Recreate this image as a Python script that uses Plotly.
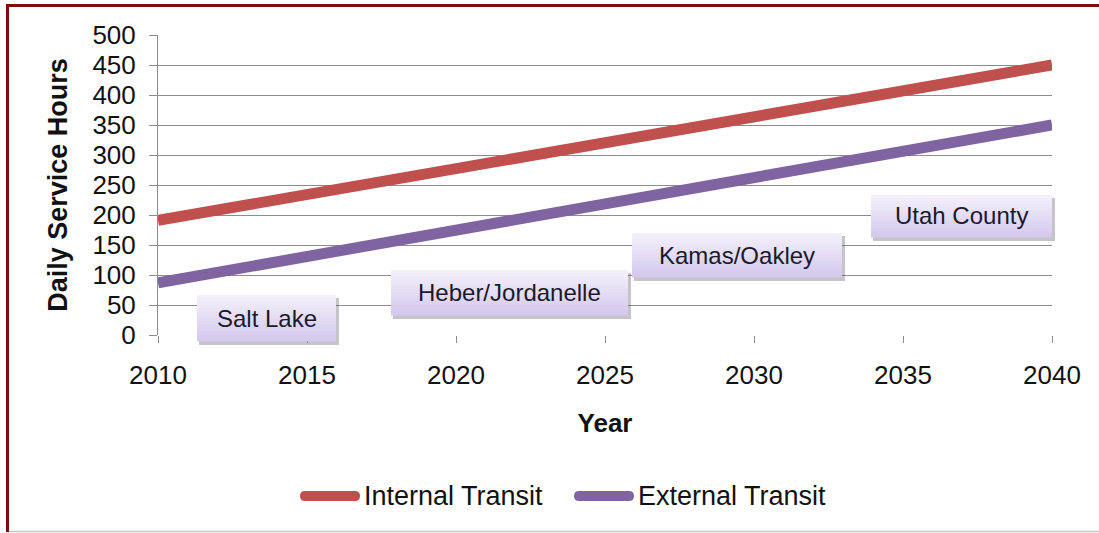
import plotly.graph_objects as go

# Service-hour projections
years = [2010, 2040]
internal_transit = [191, 450]
external_transit = [87, 350]
x_ticks = [2010, 2015, 2020, 2025, 2030, 2035, 2040]
y_ticks = [0, 50, 100, 150, 200, 250, 300, 350, 400, 450, 500]
region_labels = ["Salt Lake", "Heber/Jordanelle", "Kamas/Oakley", "Utah County"]

RED = "#c0504d"
PURPLE = "#8064a2"
GRID = "#8c8c8c"
FONT = "Liberation Sans, Arial, sans-serif"

W, H = 1099, 533
L, R, T, B = 158, 47, 35, 198
PW, PH = W - L - R, H - T - B


def px(xp):
    return (xp - L) / PW


def py(yp):
    return (T + PH - yp) / PH


fig = go.Figure()
fig.add_trace(go.Scatter(x=years, y=internal_transit, mode="lines", name="Internal Transit",
                         line=dict(color=RED, width=11), showlegend=False))
fig.add_trace(go.Scatter(x=years, y=external_transit, mode="lines", name="External Transit",
                         line=dict(color=PURPLE, width=11), showlegend=False))

shapes = []
annotations = []

# region callout boxes (pixel extents: left, top, right, bottom)
box_px = [(197, 295, 336, 341), (391, 270, 628, 315), (632, 233, 842, 277), (871, 195, 1052, 237)]
top_c = (243, 240, 251)
bot_c = (213, 201, 238)
n_strips = 14
for label, (x0, y0, x1, y1) in zip(region_labels, box_px):
    # drop shadow
    shapes.append(dict(type="rect", xref="paper", yref="paper", layer="above",
                       x0=px(x0 + 2), x1=px(x1 + 3), y0=py(y0 + 3), y1=py(y1 + 4),
                       fillcolor="rgba(90,90,100,0.35)", line=dict(width=0)))
    hstep = (y1 - y0) / n_strips
    for i in range(n_strips):
        t = i / (n_strips - 1)
        c = tuple(round(a + (b - a) * t) for a, b in zip(top_c, bot_c))
        shapes.append(dict(type="rect", xref="paper", yref="paper", layer="above",
                           x0=px(x0), x1=px(x1), y0=py(y0 + (i + 1) * hstep + 0.5), y1=py(y0 + i * hstep),
                           fillcolor="rgb(%d,%d,%d)" % c, line=dict(width=0)))
    annotations.append(dict(text=label, xref="paper", yref="paper", showarrow=False,
                            x=px((x0 + x1) / 2), y=py((y0 + y1) / 2), xanchor="center", yanchor="middle",
                            font=dict(family=FONT, size=24, color="#1a1a2a")))

# legend drawn as rounded swatches with labels
legend_items = [("Internal Transit", RED, 300, 360), ("External Transit", PURPLE, 574, 634)]
ly = 496
for name, col, lx0, lx1 in legend_items:
    r = 5
    path = (f"M {px(lx0 + r)},{py(ly - r)} L {px(lx1 - r)},{py(ly - r)} "
            f"Q {px(lx1)},{py(ly - r)} {px(lx1)},{py(ly)} Q {px(lx1)},{py(ly + r)} {px(lx1 - r)},{py(ly + r)} "
            f"L {px(lx0 + r)},{py(ly + r)} Q {px(lx0)},{py(ly + r)} {px(lx0)},{py(ly)} "
            f"Q {px(lx0)},{py(ly - r)} {px(lx0 + r)},{py(ly - r)} Z")
    shapes.append(dict(type="path", xref="paper", yref="paper", path=path,
                       fillcolor=col, line=dict(width=0)))
    annotations.append(dict(text=name, xref="paper", yref="paper", showarrow=False,
                            x=px(lx1 + 2), y=py(ly), xanchor="left", yanchor="middle",
                            font=dict(family=FONT, size=27, color="#111111")))

# outer frame
frame = "#7a0e0e"
shapes.append(dict(type="line", xref="paper", yref="paper", x0=px(7.5), x1=px(7.5), y0=py(4), y1=py(532),
                   line=dict(color=frame, width=3)))
shapes.append(dict(type="line", xref="paper", yref="paper", x0=px(6), x1=px(1100), y0=py(5.5), y1=py(5.5),
                   line=dict(color=frame, width=3)))
shapes.append(dict(type="line", xref="paper", yref="paper", x0=px(9), x1=px(1100), y0=py(531.5), y1=py(531.5),
                   line=dict(color="#e8b8b8", width=1.5)))

fig.update_layout(
    width=W, height=H,
    margin=dict(l=L, r=R, t=T, b=B),
    paper_bgcolor="white", plot_bgcolor="white",
    font=dict(family=FONT, size=26, color="#111111"),
    shapes=shapes, annotations=annotations,
    showlegend=False,
)
fig.update_xaxes(range=[2010, 2040], tickvals=x_ticks, showgrid=False, zeroline=False,
                 showline=False, ticks="outside", ticklen=7, tickcolor=GRID,
                 tickfont=dict(size=26), ticklabelstandoff=10,
                 title=dict(text="<b>Year</b>", font=dict(size=26), standoff=24))
fig.update_yaxes(range=[0, 500], tickvals=y_ticks, showgrid=True, gridcolor=GRID, gridwidth=1,
                 zeroline=False, showline=True, linecolor=GRID, linewidth=1,
                 ticks="outside", ticklen=8, tickcolor=GRID, tickfont=dict(size=26),
                 ticklabelstandoff=8,
                 title=dict(text="<b>Daily Service Hours</b>", font=dict(size=27), standoff=16))

fig.write_html("out.html")
